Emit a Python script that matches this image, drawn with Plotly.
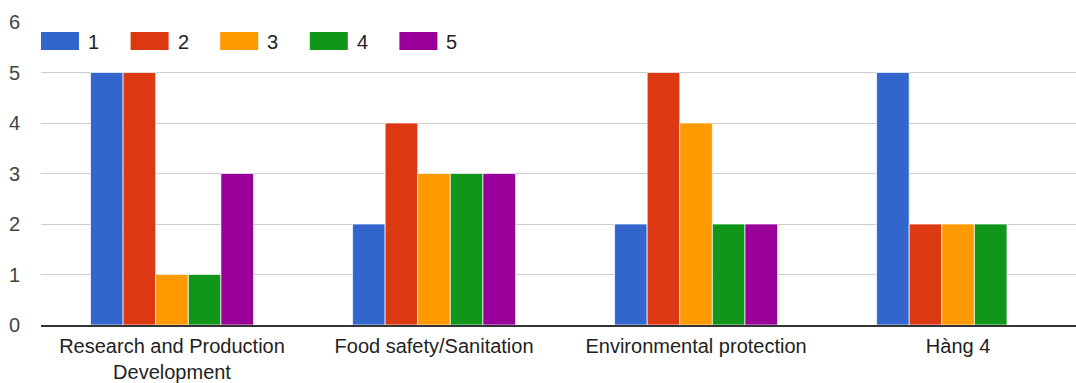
import plotly.graph_objects as go

categories = ["Research and Production<br>Development", "Food safety/Sanitation",
              "Environmental protection", "Hàng 4"]
series_names = ["1", "2", "3", "4", "5"]
values_1 = [5, 2, 2, 5]
values_2 = [5, 4, 5, 2]
values_3 = [1, 3, 4, 2]
values_4 = [1, 3, 2, 2]
values_5 = [3, 3, 2, None]
y_ticks = [0, 1, 2, 3, 4, 5, 6]

series_values = [values_1, values_2, values_3, values_4, values_5]
colors = ["#3366CC", "#DC3912", "#FF9900", "#109618", "#990099"]

W, H = 1076, 383
ML, MR, MT, MB = 41, 0, 22, 58
FONT = "Liberation Sans, Arial, sans-serif"
FS = 20

fig = go.Figure()
for name, vals, col in zip(series_names, series_values, colors):
    fig.add_trace(go.Bar(
        x=list(range(len(categories))), y=vals, name=name,
        marker=dict(color=col, line=dict(color="rgba(255,255,255,0.7)", width=1)),
        showlegend=False,
    ))

# custom legend with wide colour swatches
pw, ph = W - ML - MR, H - MT - MB
def px_x(px):
    return (px - ML) / pw
def px_y(py):
    return 1 - (py - MT) / ph

shapes = []
annotations = []
for i, (name, col) in enumerate(zip(series_names, colors)):
    x0 = 41 + i * 89.6
    shapes.append(dict(type="rect", xref="paper", yref="paper",
                       x0=px_x(x0), x1=px_x(x0 + 38), y0=px_y(50), y1=px_y(32),
                       fillcolor=col, line=dict(color=col, width=0), layer="above"))
    annotations.append(dict(xref="paper", yref="paper", x=px_x(x0 + 45), y=px_y(41.5),
                            text=name, showarrow=False, xanchor="left", yanchor="middle",
                            font=dict(family=FONT, size=FS, color="#222222")))

fig.update_layout(
    width=W, height=H,
    margin=dict(l=ML, r=MR, t=MT, b=MB, pad=0),
    paper_bgcolor="white", plot_bgcolor="white",
    barmode="group", bargap=0.378, bargroupgap=0,
    font=dict(family=FONT, size=FS, color="#222222"),
    shapes=shapes, annotations=annotations,
    xaxis=dict(
        range=[-0.5, 3.45], tickmode="array",
        tickvals=list(range(len(categories))), ticktext=categories,
        showgrid=False, showline=True, linecolor="#333333", linewidth=1.5,
        ticks="", tickfont=dict(family=FONT, size=FS, color="#222222"),
        ticklabelstandoff=2,
        zeroline=False, fixedrange=True,
    ),
    yaxis=dict(
        range=[0, 6], tickvals=y_ticks, showgrid=True, gridcolor="#cccccc",
        gridwidth=1, zeroline=False, ticks="",
        tickfont=dict(family=FONT, size=FS, color="#444444"),
        ticklabelstandoff=20, fixedrange=True,
    ),
)

fig.write_html("out.html")
